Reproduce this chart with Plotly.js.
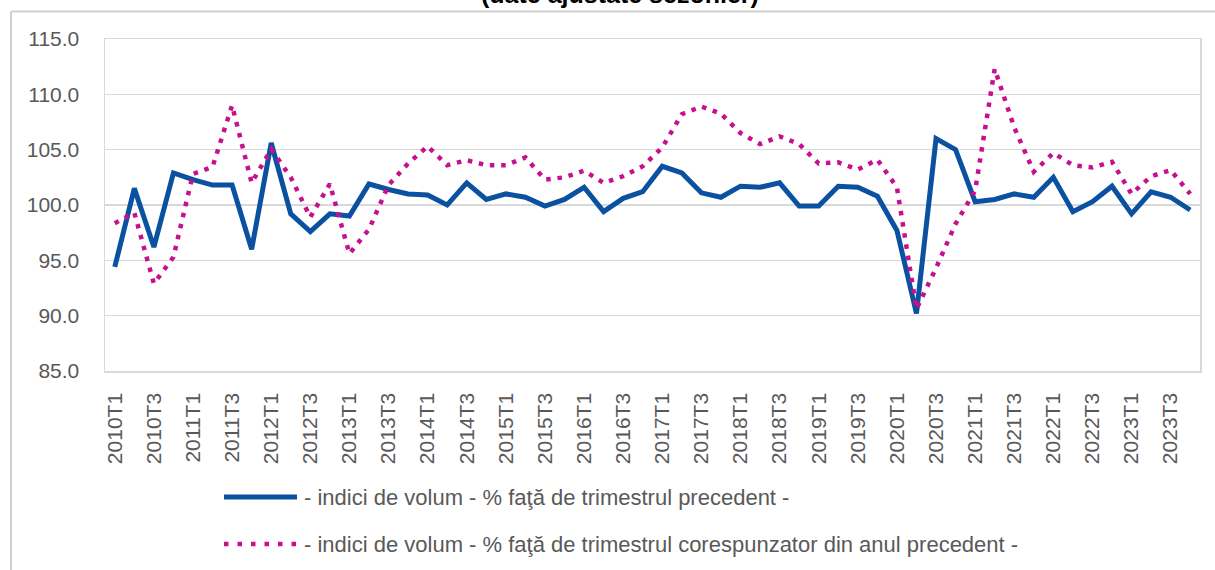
<!DOCTYPE html>
<html>
<head>
<meta charset="utf-8">
<script src="https://cdn.plot.ly/plotly-3.0.1.min.js"></script>
<style>
  html, body { margin: 0; padding: 0; background: #ffffff; }
  #chart { width: 1215px; height: 570px; }
</style>
</head>
<body>
<div id="chart"></div>
<script>
// ---- data ----
const years = [2010, 2011, 2012, 2013, 2014, 2015, 2016, 2017, 2018, 2019, 2020, 2021, 2022, 2023];
const quarterSuffix = ['T1', 'T2', 'T3', 'T4'];
const quarters = [];
years.forEach(y => quarterSuffix.forEach(q => quarters.push(y + q)));

// shown tick labels (T1 and T3 of every year)
const tickLabels = quarters.filter(q => q.endsWith('T1') || q.endsWith('T3'));

const titleText = '(date ajustate sezonier)';
const namePrev = '- indici de volum - % faţă de trimestrul precedent -';
const nameYear = '- indici de volum - % faţă de trimestrul corespunzator din anul precedent -';

// volume index, % vs previous quarter
const volPrev = [
  94.4, 101.5, 96.2, 102.9,
  102.3, 101.8, 101.8, 96.0,
  105.6, 99.2, 97.6, 99.2,
  99.0, 101.9, 101.4, 101.0,
  100.9, 100.0, 102.0, 100.5,
  101.0, 100.7, 99.9, 100.5,
  101.6, 99.4, 100.6, 101.2,
  103.5, 102.9, 101.1, 100.7,
  101.7, 101.6, 102.0, 99.9,
  99.9, 101.7, 101.6, 100.8,
  97.7, 90.2, 106.0, 105.0,
  100.3, 100.5, 101.0, 100.7,
  102.5, 99.4, 100.3, 101.7,
  99.2, 101.2, 100.7, 99.55
];

// volume index, % vs same quarter of previous year
const volYear = [
  98.35, 99.3, 92.9, 95.3,
  102.8, 103.45, 109.0, 102.0,
  105.05, 102.5, 98.9, 101.9,
  95.6, 97.8, 101.8, 103.75,
  105.3, 103.6, 104.05, 103.6,
  103.6, 104.3, 102.3, 102.5,
  103.1, 102.0, 102.6, 103.5,
  105.2, 108.2, 108.9, 108.25,
  106.5, 105.5, 106.2, 105.5,
  103.75, 103.85, 103.2, 104.1,
  101.6, 90.6, 94.3, 98.3,
  101.3, 112.3, 107.0, 103.0,
  104.7, 103.6, 103.4, 103.9,
  101.0, 102.6, 103.15, 101.0
];

// ---- styles ----
const blue = '#0A52A1';
const pink = '#C8108E';
const grid = '#D9D9D9';
const frame = '#CFCFCF';
const textGrey = '#595959';
const fontFam = '"Liberation Sans", Arial, sans-serif';

// plot-area pixel geometry helpers (layout only)
const W = 1215, H = 570;
const M = { l: 105, r: 15, t: 39, b: 199 };
const pw = W - M.l - M.r, ph = H - M.t - M.b;
const px = x => (x - M.l) / pw;
const py = y => (H - M.b - y) / ph;

const traces = [
  {
    type: 'scatter', mode: 'lines', name: namePrev,
    x: quarters, y: volPrev,
    line: { color: blue, width: 5 },
    hoverinfo: 'x+y'
  },
  {
    type: 'scatter', mode: 'lines', name: nameYear,
    x: quarters, y: volYear,
    line: { color: pink, width: 4.5, dash: '4.5px,6.8px' },
    hoverinfo: 'x+y'
  }
];

const layout = {
  width: W, height: H,
  margin: M,
  paper_bgcolor: '#ffffff',
  plot_bgcolor: '#ffffff',
  font: { family: fontFam, color: textGrey },
  showlegend: false,
  xaxis: {
    type: 'category',
    categoryorder: 'array', categoryarray: quarters,
    range: [-0.5, quarters.length - 0.5],
    tickmode: 'array', tickvals: tickLabels, ticktext: tickLabels,
    tickangle: -90,
    tickfont: { family: fontFam, size: 21, color: textGrey },
    ticklabelstandoff: 12,
    ticks: '',
    showgrid: false,
    showline: true, mirror: true, linecolor: grid, linewidth: 1.5,
    zeroline: false,
    fixedrange: true
  },
  yaxis: {
    range: [85, 115],
    tickmode: 'linear', tick0: 85, dtick: 5,
    tickformat: '.1f',
    tickfont: { family: fontFam, size: 21, color: textGrey },
    ticklabelstandoff: 20,
    ticks: '',
    showgrid: true, gridcolor: grid, gridwidth: 1.5,
    showline: true, mirror: true, linecolor: grid, linewidth: 1.5,
    zeroline: false,
    fixedrange: true
  },
  shapes: [
    // outer chart-area frame (top and left edges visible in the source)
    { type: 'line', xref: 'paper', yref: 'paper',
      x0: px(11), x1: px(1215), y0: py(11.5), y1: py(11.5),
      line: { color: frame, width: 2 } },
    { type: 'line', xref: 'paper', yref: 'paper',
      x0: px(11), x1: px(11), y0: py(11.5), y1: py(570),
      line: { color: frame, width: 2 } },
    // legend samples
    { type: 'line', xref: 'paper', yref: 'paper',
      x0: px(224), x1: px(297), y0: py(497), y1: py(497),
      line: { color: blue, width: 5 } },
    { type: 'line', xref: 'paper', yref: 'paper',
      x0: px(224), x1: px(298), y0: py(544), y1: py(544),
      line: { color: pink, width: 4.5, dash: '4.5px,9px' } }
  ],
  annotations: [
    // chart title (partly cut off at the top edge, as in the source)
    { xref: 'paper', yref: 'paper', x: px(620), y: py(-6),
      xanchor: 'center', yanchor: 'middle', showarrow: false,
      text: '<b>' + titleText + '</b>',
      font: { family: fontFam, size: 25, color: '#000000' } },
    { xref: 'paper', yref: 'paper', x: px(302), y: py(497),
      xanchor: 'left', yanchor: 'middle', showarrow: false,
      text: namePrev, font: { family: fontFam, size: 22, color: textGrey } },
    { xref: 'paper', yref: 'paper', x: px(302), y: py(544),
      xanchor: 'left', yanchor: 'middle', showarrow: false,
      text: nameYear, font: { family: fontFam, size: 22, color: textGrey } }
  ]
};

Plotly.newPlot('chart', traces, layout, { displayModeBar: false, staticPlot: true });
</script>
</body>
</html>
